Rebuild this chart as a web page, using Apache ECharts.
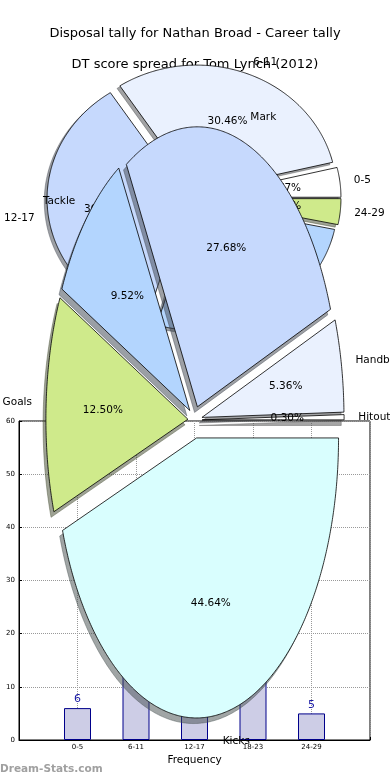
<!DOCTYPE html>
<html><head><meta charset="utf-8">
<script src="https://cdn.jsdelivr.net/npm/echarts@6/dist/echarts.min.js"></script>
<style>html,body{margin:0;padding:0;background:#fff}#c{width:390px;height:780px}</style>
</head><body><div id="c"></div>
<script>
// ---------------- data ----------------
const barCategories = ['0-5', '6-11', '12-17', '18-23', '24-29'];
const barValues = [6, 16, 52, 19, 5];
const yMin = 0, yMax = 60, yStep = 10;

const spreadLabels = ['0-5', '6-11', '12-17', '18-23', '24-29'];
const spreadPercents = [3.77, 30.46, 36.06, 26.43, 3.28];

const disposalLabels = ['Hitout', 'Handball', 'Mark', 'Tackle', 'Goals', 'Kicks'];
const disposalPercents = [0.30, 5.36, 27.68, 9.52, 12.50, 44.64];

const titleMain = 'Disposal tally for Nathan Broad - Career tally';
const titleSub = 'DT score spread for Tom Lynch (2012)';
const xName = 'Frequency';
const watermark = 'Dream-Stats.com';

// ---------------- styles / layout ----------------
const FONT = "'DejaVu Sans', sans-serif";
const spreadColors = ['#ffffff', '#eaf1fe', '#c6d9fd', '#b3d5fe', '#cfea8b'];
const disposalColors = ['#ffffff', '#eaf1fe', '#c6d9fd', '#b3d5fe', '#cfea8b', '#d9fefe'];
const spreadGeo = {cx: 194, cy: 198, rx: 140, ry: 127, explode: [0.05, 0.05, 0.05, 0.05, 0.05], ld: 1.1, pd: 0.6};
const disposalGeo = {cx: 195, cy: 420, rx: 142, ry: 280, explode: [0.05, 0.05, 0.05, 0.05, 0.05, 0.065], ld: 1.1, pd: 0.6};

function hexRgb(h) { h = h.replace('#', ''); return [0, 2, 4].map(k => parseInt(h.substr(k, 2), 16)); }

function pieSeries(labels, values, colors, geo, zBase) {
  const total = values.reduce((a, b) => a + b, 0);
  let acc = 0;
  const spans = values.map(v => { const a0 = acc / total * 360; acc += v; return [a0, acc / total * 360]; });
  const data = values.map((v, i) => ({name: labels[i], value: v}));
  function center(i) {
    const [a0, a1] = spans[i]; const m = (a0 + a1) / 2 * Math.PI / 180; const e = geo.explode[i];
    return {x: geo.cx + e * geo.rx * Math.cos(m), y: geo.cy - e * geo.ry * Math.sin(m), m};
  }
  function pts(i, dx, dy) {
    const c = center(i); const [a0, a1] = spans[i];
    const n = Math.max(2, Math.ceil((a1 - a0) * 2));
    const p = [[c.x + dx, c.y + dy]];
    for (let k = 0; k <= n; k++) {
      const t = (a0 + (a1 - a0) * k / n) * Math.PI / 180;
      p.push([c.x + dx + geo.rx * Math.cos(t), c.y + dy - geo.ry * Math.sin(t)]);
    }
    return p;
  }
  const base = {type: 'custom', coordinateSystem: 'none', silent: true, animation: false, data};
  return [
    Object.assign({}, base, {z: zBase, renderItem: (p) => {
      const i = p.dataIndex; const [r, g, b] = hexRgb(colors[i]);
      const col = 'rgba(' + Math.round(r * 0.3) + ',' + Math.round(g * 0.3) + ',' + Math.round(b * 0.3) + ',0.5)';
      return {type: 'polygon', shape: {points: pts(i, -0.02 * geo.rx, 0.02 * geo.ry)},
        style: {fill: col, stroke: col, lineWidth: 0.8}};
    }}),
    Object.assign({}, base, {z: zBase + 1, renderItem: (p) => {
      const i = p.dataIndex;
      return {type: 'polygon', shape: {points: pts(i, 0, 0)},
        style: {fill: colors[i], stroke: '#000', lineWidth: 0.8}};
    }}),
    Object.assign({}, base, {z: zBase + 2, renderItem: (p) => {
      const i = p.dataIndex; const c = center(i);
      const cs = Math.cos(c.m), sn = Math.sin(c.m);
      const lx = c.x + geo.ld * geo.rx * cs, ly = c.y - geo.ld * geo.ry * sn;
      const px = c.x + geo.pd * geo.rx * cs, py = c.y - geo.pd * geo.ry * sn;
      return {type: 'group', children: [
        {type: 'text', x: lx, y: ly, style: {text: labels[i], fill: '#000', font: '10.5px ' + FONT,
          align: cs > 0 ? 'left' : 'right', verticalAlign: 'middle'}},
        {type: 'text', x: px, y: py, style: {text: (values[i] / total * 100).toFixed(2) + '%', fill: '#000',
          font: '10.5px ' + FONT, align: 'center', verticalAlign: 'middle'}}
      ]};
    }})
  ];
}

const chart = echarts.init(document.getElementById('c'), null, {renderer: 'canvas'});
const dotted = {show: true, lineStyle: {type: 'dotted', color: '#999', width: 1}};
chart.setOption({
  animation: false,
  backgroundColor: '#fff',
  title: [
    {text: titleMain, left: 'center', top: 22, textStyle: {fontSize: 13, fontWeight: 'normal', color: '#000', fontFamily: FONT}},
    {text: titleSub, left: 'center', top: 53, textStyle: {fontSize: 13, fontWeight: 'normal', color: '#000', fontFamily: FONT}}
  ],
  grid: {left: 19, right: 20, top: 421, bottom: 40, show: true, borderColor: '#000', borderWidth: 1, backgroundColor: 'transparent'},
  xAxis: {type: 'value', min: 0, max: barCategories.length + 1, interval: 1,
    name: xName, nameLocation: 'middle', nameGap: 15,
    nameTextStyle: {fontSize: 10.5, color: '#000', fontFamily: FONT},
    axisLine: {show: true, lineStyle: {color: '#000'}},
    axisTick: {show: true, inside: true, length: 3, lineStyle: {color: '#000'}},
    axisLabel: {fontSize: 7, color: '#000', fontFamily: FONT, margin: 4,
      formatter: v => barCategories[v - 1] || ''},
    splitLine: dotted},
  yAxis: {type: 'value', min: yMin, max: yMax, interval: yStep,
    axisLine: {show: true, lineStyle: {color: '#000'}},
    axisTick: {show: true, inside: true, length: 3, lineStyle: {color: '#000'}},
    axisLabel: {fontSize: 7, color: '#000', fontFamily: FONT, margin: 4},
    splitLine: dotted},
  graphic: [
    {type: 'text', left: 0, top: 764, z: 100, style: {text: watermark, fill: '#a0a0a0', font: '600 10.5px ' + FONT}}
  ],
  series: [
    {type: 'bar', z: 2, barWidth: 27,
      data: barValues.map((v, i) => [i + 1, v]),
      itemStyle: {color: '#cdcde6', borderColor: '#00008b', borderWidth: 1},
      label: {show: true, position: 'top', distance: 3, color: '#1a1aa6', fontSize: 11, fontFamily: FONT,
        formatter: p => p.value[1]}}
  ].concat(pieSeries(spreadLabels, spreadPercents, spreadColors, spreadGeo, 10))
   .concat(pieSeries(disposalLabels, disposalPercents, disposalColors, disposalGeo, 20))
});
</script>
</body></html>
